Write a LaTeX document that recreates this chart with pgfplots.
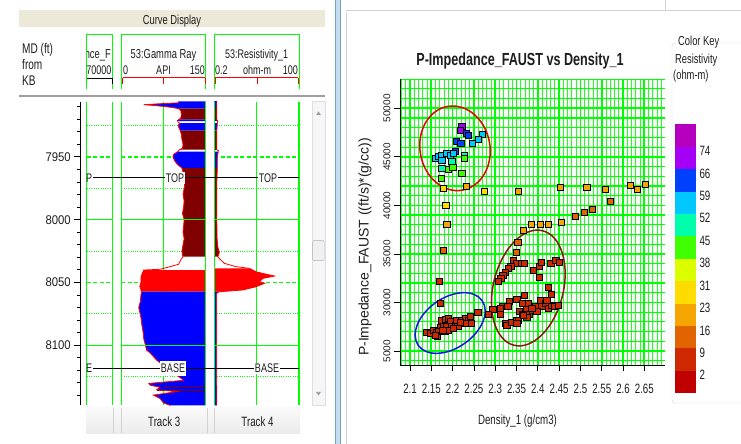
\documentclass[border=0pt]{standalone}
\usepackage{pgfplots}
\pgfplotsset{compat=1.18}
\usepackage{fontspec}
\setmainfont{Liberation Sans}[FakeStretch=0.72]
\newfontfamily\rotfont{Liberation Sans}
\newfontfamily\depthfont{Liberation Sans}[FakeStretch=0.9]
\newcommand{\fs}[1]{\fontsize{#1}{#1}\selectfont}
\definecolor{ck1}{RGB}{180,0,190}
\definecolor{ck2}{RGB}{165,0,245}
\definecolor{ck3}{RGB}{0,64,255}
\definecolor{ck4}{RGB}{0,200,255}
\definecolor{ck5}{RGB}{0,255,170}
\definecolor{ck6}{RGB}{64,255,0}
\definecolor{ck7}{RGB}{220,255,0}
\definecolor{ck8}{RGB}{255,220,0}
\definecolor{ck9}{RGB}{245,165,0}
\definecolor{ck10}{RGB}{225,100,0}
\definecolor{ck11}{RGB}{205,40,0}
\definecolor{ck12}{RGB}{192,0,0}
\definecolor{logblue}{RGB}{0,0,255}
\definecolor{logbrown}{RGB}{128,0,0}
\definecolor{logred}{RGB}{255,0,0}
\definecolor{beige}{RGB}{236,233,216}
\definecolor{txt}{RGB}{30,30,30}
\definecolor{paneblue}{RGB}{195,220,238}
\definecolor{panelines}{RGB}{120,160,200}
\definecolor{ellred}{RGB}{230,0,0}
\definecolor{ellbrown}{RGB}{140,20,20}
\definecolor{ellblue}{RGB}{20,20,230}
\pgfplotsset{pt/.style={only marks, mark=square*, mark size=3.1pt, mark options={fill=#1, draw=black, line width=0.5pt}}}
\begin{document}
\begin{tikzpicture}
\fill[white] (0,0) rectangle (741pt,444pt);
% ---------- left panel chrome ----------
\begin{scope}[shift={(0pt,444pt)},x=1pt,y=-1pt,every node/.style={inner sep=0pt,text=txt}]
\fill[beige] (19,10) rectangle (325,27);
\node[anchor=base, font=\fs{13}] at (172,24.5) {Curve Display};
\node[anchor=base west, font=\fs{14}] at (22,53.3) {MD (ft)};
\node[anchor=base west, font=\fs{14}] at (22,70) {from};
\node[anchor=base west, font=\fs{14}] at (22,86) {KB};
\draw[green, line width=1pt] (86.7,89.3)--(86.7,35)--(112.3,35)--(112.3,89.3);
\draw[green, line width=1pt] (121.7,89.3)--(121.7,35)--(205.7,35)--(205.7,89.3);
\draw[green, line width=1pt] (214.3,89.3)--(214.3,35)--(299,35)--(299,89.3);
\begin{scope}
\clip (87.2,30) rectangle (113,90);
\node[anchor=base east, font=\fs{13}] at (111,58.7) {nce\_F};
\node[anchor=base east, font=\fs{12.5}] at (111.5,75) {70000};
\end{scope}
\draw[black, line width=1.2pt] (86.7,78.5)--(112.3,78.5);
\draw[black, line width=1pt] (112,78.5)--(112,84);
\node[anchor=base, font=\fs{13}] at (163.5,58.7) {53:Gamma Ray};
\node[anchor=base west, font=\fs{12.5}] at (123,75) {0};
\node[anchor=base, font=\fs{12.5}] at (163.5,75) {API};
\node[anchor=base east, font=\fs{12.5}] at (205,75) {150};
\draw[red, line width=1pt] (122.7,78)--(205,78);
\foreach \x in {122.7,163.7,205} \draw[red, line width=1pt] (\x,78)--(\x,84);
\node[anchor=base, font=\fs{12.5}] at (256.7,58.7) {53:Resistivity\_1};
\node[anchor=base west, font=\fs{12.5}] at (215,75) {0.2};
\node[anchor=base, font=\fs{12.5}] at (257,75) {ohm-m};
\node[anchor=base east, font=\fs{12.5}] at (298,75) {100};
\draw[red, line width=1pt] (215.3,78)--(298.3,78);
\foreach \x in {215.3,257.3,298.3} \draw[red, line width=1pt] (\x,78)--(\x,84);
\draw[gray!75, line width=2pt] (19,95.7)--(325,95.7);
% scrollbar
\fill[gray!7] (311.7,101.7) rectangle (325,405);
\draw[gray!25] (311.7,101.7) rectangle (325,405);
\draw[gray!60, fill=gray!12, rounded corners=1pt] (312.6,240.7) rectangle (324.2,260.7);
\fill[gray!75] (316,115) -- (321,115) -- (318.5,111.5) -- cycle;
\fill[gray!75] (316,392) -- (321,392) -- (318.5,395.5) -- cycle;
% bottom tabs
\shade[top color=gray!4, bottom color=gray!16] (86.7,408) rectangle (300,433.5);
\foreach \x in {113.3,121,206.7,214.3} \draw[gray!35] (\x,408)--(\x,433.5);
\node[anchor=base, font=\fs{13.5}] at (164.2,427) {Track 3};
\node[anchor=base, font=\fs{13.5}] at (257.5,427) {Track 4};
% background grid of the tracks
\foreach \y in {125.6,188.4,251.1,313.8,376.5} {
  \foreach \a/\b in {86.7/112.3,121.3/205.7,214.3/299}
    \draw[green, line width=0.9pt, dash pattern=on 1pt off 1.3pt] (\a,\y)--(\b,\y);
}
\foreach \y in {157,282.5} {
  \foreach \a/\b in {86.7/112.3,121.3/205.7,214.3/299}
    \draw[green, line width=1.1pt, dash pattern=on 4pt off 2.5pt] (\a,\y)--(\b,\y);
}
\draw[green, line width=1pt] (163.5,101.8)--(163.5,405.4);
\draw[green, line width=1pt] (256.7,101.8)--(256.7,405.4);
\end{scope}

% ---------- depth axis ----------
\begin{axis}[at={(80.3pt,38.6pt)}, anchor=south west, scale only axis,
  width=218.7pt, height=303.6pt, xmin=0, xmax=1, ymin=7906, ymax=8148, y dir=reverse,
  axis x line=none, axis y line*=left, y axis line style={-, line width=1pt},
  ytick={7950,8000,8050,8100}, yticklabels={7950,8000,8050,8100},
  minor ytick={7910,7920,...,8140},
  tick align=outside, major tick length=6pt, minor tick length=3.7pt,
  tick style={black, line width=1pt},
  yticklabel style={font=\depthfont\fs{12.6}, text=txt}]
\addplot[draw=none] coordinates {(0.5,7950)};
\end{axis}

% ---------- track 3 : gamma ray ----------
\begin{axis}[at={(121.3pt,38.6pt)}, anchor=south west, scale only axis,
  width=84.2pt, height=303.6pt, xmin=0, xmax=150, ymin=7906, ymax=8148, y dir=reverse, hide axis]
\addplot[fill=logblue, draw=none] coordinates {(150,7905.6)(102,7905.6)(102,7906.8)(75,7907.4)(40,7908.3)(60,7909)(78,7909.8)(92,7910.6)(102,7911.5)(150,7911.5)} -- cycle;
\addplot[fill=logbrown, draw=none] coordinates {(150,7911.5)(102,7911.5)(106,7913)(107,7916)(106,7919)(102,7920.2)(150,7920.2)} -- cycle;
\addplot[fill=logblue, draw=none] coordinates {(150,7920.2)(102,7920.2)(100,7921)(100.5,7921.5)(150,7921.5)} -- cycle;
\addplot[fill=logblue, draw=none] coordinates {(150,7923)(103.5,7923)(104,7923.2)(101,7925)(103,7927)(105,7929)(150,7929)} -- cycle;
\addplot[fill=logbrown, draw=none] coordinates {(150,7929)(105,7929)(107,7932)(108,7936)(110,7940)(109,7943)(104,7944.2)(150,7944.2)} -- cycle;
\addplot[fill=logblue, draw=none] coordinates {(150,7945.8)(100,7945.8)(93,7948)(92,7950)(95,7953)(100,7956)(108,7958.8)(150,7958.8)} -- cycle;
\addplot[fill=logbrown, draw=none] coordinates {(150,7958.8)(108,7958.8)(110,7962)(111,7966)(113,7970)(112,7975)(110,7980)(112,7985)(111,7990)(109,7995)(112,8000)(111,8005)(110,8010)(112,8015)(110,8020)(108,8025)(109.7,8029.5)(150,8029.5)} -- cycle;
\addplot[fill=logred, draw=none] coordinates {(150,8040.1)(40,8040.1)(37,8043)(35,8046)(35,8050)(33,8053)(36,8057.4)(150,8057.4)} -- cycle;
\addplot[fill=logblue, draw=none] coordinates {(150,8057.4)(36,8057.4)(35,8060)(34,8065)(31,8070)(33,8074)(35,8078)(37,8085)(39,8090)(40,8095)(43,8100)(45,8104)(51,8106)(63,8112)(72,8115)(75,8118)(93,8122)(111,8128)(49,8130.5)(52,8132)(69,8133.5)(63,8135.5)(99,8137)(57,8139.8)(69,8142.5)(75,8146)(87,8148)(150,8148)} -- cycle;
\addplot[logbrown, line width=1pt] coordinates {(75,8132.6)(150,8132.6)};
\addplot[logbrown, line width=1pt] coordinates {(63,8135.8)(150,8135.8)};
\addplot[logred, line width=0.8pt] coordinates {(102,7905.6)(102,7906.8)(75,7907.4)(40,7908.3)(60,7909)(78,7909.8)(92,7910.6)(102,7911.5)(106,7913)(107,7916)(106,7919)(102,7920.2)(100,7921)(101,7922)(104,7923.2)(101,7925)(103,7927)(105,7929)(107,7932)(108,7936)(110,7940)(109,7943)(104,7944.2)(100,7945.8)(93,7948)(92,7950)(95,7953)(100,7956)(108,7958.8)(110,7962)(111,7966)(113,7970)(112,7975)(110,7980)(112,7985)(111,7990)(109,7995)(112,8000)(111,8005)(110,8010)(112,8015)(110,8020)(108,8025)(109.7,8029.5)(106,8032)(102,8035.5)(87,8037.4)(69,8039.5)(40,8040.1)(37,8043)(35,8046)(35,8050)(33,8053)(36,8057.4)(35,8060)(34,8065)(31,8070)(33,8074)(35,8078)(37,8085)(39,8090)(40,8095)(43,8100)(45,8104)(51,8106)(63,8112)(72,8115)(75,8118)(93,8122)(111,8128)(49,8130.5)(52,8132)(69,8133.5)(63,8135.5)(99,8137)(57,8139.8)(69,8142.5)(75,8146)(87,8148)};
\end{axis}

% ---------- track 4 : resistivity ----------
\begin{axis}[at={(214.3pt,38.6pt)}, anchor=south west, scale only axis, xmode=log,
  width=84.7pt, height=303.6pt, xmin=0.2, xmax=100, ymin=7906, ymax=8148, y dir=reverse, hide axis]
\addplot[fill=logblue, draw=none] coordinates {(0.2,7905.6)(0.24,7905.6)(0.24,7911.5)(0.2,7911.5)} -- cycle;
\addplot[fill=logbrown, draw=none] coordinates {(0.2,7911.5)(0.24,7911.5)(0.24,7920.2)(0.2,7920.2)} -- cycle;
\addplot[fill=logblue, draw=none] coordinates {(0.2,7920.2)(0.24,7920.2)(0.26,7921.5)(0.2,7921.5)} -- cycle;
\addplot[fill=logblue, draw=none] coordinates {(0.2,7923)(0.25,7923)(0.24,7929)(0.2,7929)} -- cycle;
\addplot[fill=logbrown, draw=none] coordinates {(0.2,7929)(0.24,7929)(0.24,7944.2)(0.2,7944.2)} -- cycle;
\addplot[fill=logblue, draw=none] coordinates {(0.2,7945.8)(0.26,7945.8)(0.25,7950)(0.25,7958.8)(0.2,7958.8)} -- cycle;
\addplot[fill=logbrown, draw=none] coordinates {(0.2,7958.8)(0.25,7958.8)(0.24,7970)(0.24,8000)(0.245,8015)(0.26,8022)(0.29,8026)(0.26,8029.5)(0.2,8029.5)} -- cycle;
\addplot[fill=logred, draw=none] coordinates {(0.2,8038.8)(2.64,8038.8)(4.3,8041.5)(7.0,8042.8)(16.6,8044.9)(7.0,8046.8)(5.5,8049.4)(8.0,8050.7)(4.3,8053.4)(1.6,8056)(0.29,8057.4)(0.2,8057.4)} -- cycle;
\addplot[fill=logblue, draw=none] coordinates {(0.2,8057.4)(0.29,8057.4)(0.238,8058.7)(0.238,8100)(0.24,8148)(0.2,8148)} -- cycle;
\addplot[logred, line width=0.8pt] coordinates {(0.24,7905.6)(0.24,7920.2)(0.26,7921.5)(0.25,7923)(0.24,7929)(0.24,7944.2)(0.27,7945)(0.25,7950)(0.25,7958.8)(0.24,7970)(0.24,8000)(0.245,8015)(0.26,8022)(0.29,8026)(0.26,8029.5)(0.29,8031)(0.42,8034.8)(0.99,8037.4)(2.64,8038.8)(4.3,8041.5)(7.0,8042.8)(16.6,8044.9)(7.0,8046.8)(5.5,8049.4)(8.0,8050.7)(4.3,8053.4)(1.6,8056)(0.29,8057.4)(0.238,8058.7)(0.238,8100)(0.24,8148)};
\end{axis}

% ---------- overlays on tracks ----------
\begin{scope}[shift={(0pt,444pt)},x=1pt,y=-1pt,every node/.style={inner sep=0pt,text=txt}]
\foreach \x in {86.7,112.3,121.3,205.7,214.3,299} \draw[green, line width=1.2pt] (\x,101.8)--(\x,405.4);
\foreach \y in {219.7,345.2} {
  \foreach \a/\b in {86.7/112.3,121.3/205.7,214.3/299}
    \draw[green, line width=1.3pt] (\a,\y)--(\b,\y);
}
\draw[black, line width=1pt] (93,178)--(299,178);
\draw[black, line width=1pt] (93,368.4)--(299,368.4);
\node[anchor=west, font=\fs{12.5}] at (86,178) {P};
\node[anchor=west, font=\fs{12.5}] at (86,368.4) {E};
\node[fill=white, inner sep=1.2pt, font=\fs{12.5}] at (175,178) {TOP};
\node[fill=white, inner sep=1.2pt, font=\fs{12.5}] at (268,178) {TOP};
\node[fill=white, inner xsep=1.2pt, inner ysep=3pt, font=\fs{12.5}] at (173,368.4) {BASE};
\node[fill=white, inner sep=1.2pt, font=\fs{12.5}] at (267,368.4) {BASE};
% ---------- right panel chrome ----------
\fill[paneblue] (335,0) rectangle (340,444);
\draw[panelines, line width=0.6pt] (335,0)--(335,444);
\draw[panelines, line width=0.6pt] (340,0)--(340,444);
\draw[gray!35] (346,12)--(346,444);
\draw[gray!35] (346,10)--(741,10);
\draw[gray!35] (665,0)--(665,10);
\node[anchor=base, font=\bfseries\fs{17.5}] at (520,66) {P-Impedance\_FAUST vs Density\_1};
\node[rotate=90, font=\rotfont\fs{14}] at (365,247) {P-Impedance\_FAUST ((ft/s)*(g/cc))};
\node[anchor=base, font=\fs{13.5}] at (517.5,425) {Density\_1 (g/cm3)};
% color key
\draw[gray!35, rounded corners=3pt] (672,43) rectangle (760,403);
\node[anchor=base west, fill=white, inner sep=1pt, font=\fs{13}] at (677,46) {Color Key};
\node[anchor=base west, font=\fs{13}] at (675,63.3) {Resistivity};
\node[anchor=base west, font=\fs{13}] at (673,80) {(ohm-m)};
\foreach \i/\c in {0/ck1,1/ck2,2/ck3,3/ck4,4/ck5,5/ck6,6/ck7,7/ck8,8/ck9,9/ck10,10/ck11,11/ck12}
  \fill[\c] (675,{124.3+\i*22.42}) rectangle (696,{124.3+(\i+1)*22.42});
\foreach \i/\t in {1/74,2/66,3/59,4/52,5/45,6/38,7/31,8/23,9/16,10/9,11/2}
  \node[anchor=base west, font=\fs{13.5}] at (699.3,{124.3+\i*22.42+9}) {\t};
\end{scope}

% ---------- crossplot ----------
\begin{axis}[at={(400pt,79pt)}, anchor=south west, scale only axis,
  width=265pt, height=286pt,
  xmin=2.0765, xmax=2.6986, ymin=23560, ymax=53018,
  axis x line*=bottom, axis y line*=left,
  x axis line style={-}, y axis line style={-},
  scaled x ticks=false, scaled y ticks=false,
  xtick={2.1,2.15,2.2,2.25,2.3,2.35,2.4,2.45,2.5,2.55,2.6,2.65},
  xticklabels={2.1,2.15,2.2,2.25,2.3,2.35,2.4,2.45,2.5,2.55,2.6,2.65},
  minor xtick={2.08,2.09,2.11,2.12,2.13,2.14,2.16,2.17,2.18,2.19,2.21,2.22,2.23,2.24,2.26,2.27,2.28,2.29,2.31,2.32,2.33,2.34,2.36,2.37,2.38,2.39,2.41,2.42,2.43,2.44,2.46,2.47,2.48,2.49,2.51,2.52,2.53,2.54,2.56,2.57,2.58,2.59,2.61,2.62,2.63,2.64,2.66,2.67,2.68,2.69},
  ytick={25000,30000,35000,40000,45000,50000},
  yticklabels={5000,30000,35000,40000,45000,50000},
  minor ytick={24000,26000,27000,28000,29000,31000,32000,33000,34000,36000,37000,38000,39000,41000,42000,43000,44000,46000,47000,48000,49000,51000,52000,53000},
  grid=both,
  major grid style={green, line width=1.7pt},
  minor x grid style={green!85, line width=0.9pt},
  minor y grid style={green, line width=1.2pt},
  tick align=outside, major tick length=6pt, minor tick length=0pt,
  tick style={black, line width=0.8pt},
  axis background/.style={fill=gray!4},
  xticklabel style={font=\fs{13.5}, text=txt, yshift=-10pt},
  yticklabel style={font=\rotfont\fs{10}, text=txt, rotate=90, anchor=south}]
\draw[ellred, line width=1.5pt, rotate around={100:(axis cs:2.2056,45880)}] (axis cs:2.2056,45880) ellipse [x radius=42.5pt, y radius=35pt];
\draw[ellbrown, line width=1.5pt, rotate around={76:(axis cs:2.3777,31491)}] (axis cs:2.3777,31491) ellipse [x radius=59pt, y radius=35pt];
\draw[ellblue, line width=1.5pt, rotate around={35:(axis cs:2.1943,27886)}] (axis cs:2.1943,27886) ellipse [x radius=39pt, y radius=25pt];
\addplot[pt=ck2] coordinates {(2.2213,48180)(2.2174,47700)};
\addplot[pt=ck3] coordinates {(2.2315,47425)(2.2369,47254)(2.2080,46567)(2.2189,46395)(2.2056,45537)};
\addplot[pt=ck4] coordinates {(2.2698,47322)(2.2604,46807)(2.2463,46395)(2.1587,44851)(2.1665,45022)(2.1743,45194)(2.1861,45366)(2.1939,45194)(2.2017,45366)(2.1743,44679)};
\addplot[pt=ck5] coordinates {(2.1743,43821)(2.1978,44507)(2.2275,45194)};
\addplot[pt=ck6] coordinates {(2.19,43718)(2.2002,43889)(2.2275,44851)(2.2213,43306)(2.1728,42791)};
\addplot[pt=ck8] coordinates {(2.1782,41761)(2.2745,41418)(2.1837,40044)};
\addplot[pt=ck9] coordinates {(2.2315,41932)(2.3543,41418)(2.4521,41830)(2.5147,41830)(2.5577,41692)(2.6164,42104)(2.6336,41692)(2.6516,42207)(2.1861,38053)(2.384,38053)(2.4052,38053)(2.4247,38053)(2.4545,38294)(2.3661,37401)};
\addplot[pt=ck10] coordinates {(2.5695,40456)(2.5272,39632)(2.5085,39255)(2.4873,38843)(2.3527,36165)(2.3488,35169)(2.1782,35341)};
\addplot[pt=ck11] coordinates {(2.1689,32148)(2.1704,29917)
(2.3426,34380)(2.3504,34037)(2.3621,34037)(2.3676,34037)(2.3363,33693)(2.3308,33522)(2.323,33076)(2.3175,32835)(2.3128,32492)(2.3074,32148)(2.3895,33350)(2.4028,33693)(2.4075,34105)(2.4028,32561)(2.4302,34037)(2.4419,34311)(2.4498,34140)(2.4247,31565)(2.431,30878)(2.3684,30775)(2.3504,30363)(2.3332,30157)(2.3175,29574)(2.3293,29574)(2.294,29334)(2.2839,28815)(2.3113,28815)(2.323,27857)(2.3269,27685)(2.3387,27960)(2.3504,28200)(2.3567,29058)(2.3645,28818)(2.3739,29402)(2.3801,28818)(2.3879,29162)(2.3934,29574)(2.4052,30192)(2.4091,29574)(2.4169,29917)(2.4247,29402)(2.4326,29745)(2.4388,29574)(2.4482,29745)(2.3645,29917)(2.3778,29917)(2.3973,29058)(2.3739,28475)(2.3543,28200)(2.3661,28715)(2.3504,27857)(2.3856,29402)(2.4208,30260)(2.3113,29402)
(2.1391,26896)(2.1469,26827)(2.1548,27170)(2.161,26930)(2.1642,26553)(2.1704,27445)(2.1782,27685)(2.1743,28200)(2.1822,28269)(2.19,28372)(2.1939,28029)(2.1861,27514)(2.1978,27514)(2.2056,27685)(2.2119,27514)(2.2095,28200)(2.2213,28200)(2.2291,28372)(2.2369,28200)(2.2408,28544)(2.2424,27857)(2.2588,28956)(2.1665,26999)(2.1822,26999)(2.19,27102)(2.2017,27342)(2.1587,26656)(2.1767,27170)(2.2291,27857)(2.2174,27960)};
\end{axis}
\pgfresetboundingbox
\path[use as bounding box] (0,0) rectangle (741pt,444pt);
\end{tikzpicture}
\end{document}
